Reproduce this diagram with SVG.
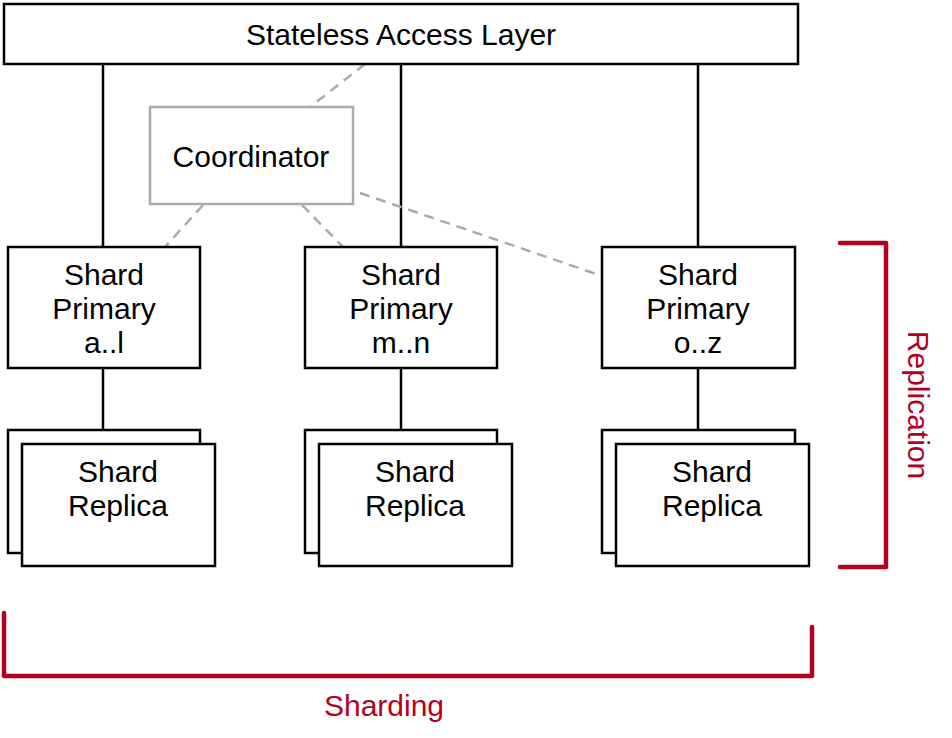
<svg xmlns="http://www.w3.org/2000/svg" width="952" height="738" viewBox="0 0 952 738">
<style>
.box{fill:#fff;stroke:#000;stroke-width:2.5}
.coord{fill:#fff;stroke:#aaa;stroke-width:2.5}
.t{font-family:"Liberation Sans",Arial,Helvetica,sans-serif;font-size:30px;fill:#000;text-anchor:middle}
.red{fill:#b3001f}
.line{stroke:#000;stroke-width:2.5;fill:none}
.dash{stroke:#aaa;stroke-width:2.5;stroke-dasharray:10 7;fill:none}
.br{stroke:#b3001f;stroke-width:4.5;fill:none;stroke-linecap:round;stroke-linejoin:round}
</style>
<rect width="952" height="738" fill="#fff"/>
<g id="connectors">
<line class="line" x1="103" y1="64" x2="103" y2="247"/>
<line class="line" x1="401" y1="64" x2="401" y2="247"/>
<line class="line" x1="698" y1="64" x2="698" y2="247"/>
<line class="line" x1="103" y1="368" x2="103" y2="430"/>
<line class="line" x1="401" y1="368" x2="401" y2="430"/>
<line class="line" x1="698" y1="368" x2="698" y2="430"/>
<line class="dash" x1="365" y1="64" x2="310" y2="107"/>
<line class="dash" x1="203" y1="205" x2="165" y2="247"/>
<line class="dash" x1="302" y1="205" x2="343" y2="247"/>
<line class="dash" x1="360" y1="193" x2="602" y2="276"/>
</g>
<g id="access-layer">
<rect class="box" x="4" y="4" width="794" height="60"/>
<text class="t" x="401" y="45">Stateless Access Layer</text>
</g>
<g id="coordinator">
<rect class="coord" x="150" y="107" width="203" height="97"/>
<text class="t" x="251" y="167">Coordinator</text>
</g>
<g id="primary-al">
<rect class="box" x="8" y="247" width="192" height="121"/>
<text class="t" x="104" y="285">Shard</text>
<text class="t" x="104" y="319">Primary</text>
<text class="t" x="104" y="353">a..l</text>
</g>
<g id="primary-mn">
<rect class="box" x="305" y="247" width="192" height="121"/>
<text class="t" x="401" y="285">Shard</text>
<text class="t" x="401" y="319">Primary</text>
<text class="t" x="401" y="353">m..n</text>
</g>
<g id="primary-oz">
<rect class="box" x="602" y="247" width="193" height="121"/>
<text class="t" x="698" y="285">Shard</text>
<text class="t" x="698" y="319">Primary</text>
<text class="t" x="698" y="353">o..z</text>
</g>
<g id="replica-al">
<rect class="box" x="8" y="430" width="192" height="123"/>
<rect class="box" x="22" y="444" width="193" height="122"/>
<text class="t" x="118" y="482">Shard</text>
<text class="t" x="118" y="516">Replica</text>
</g>
<g id="replica-mn">
<rect class="box" x="305" y="430" width="192" height="123"/>
<rect class="box" x="319" y="444" width="193" height="122"/>
<text class="t" x="415" y="482">Shard</text>
<text class="t" x="415" y="516">Replica</text>
</g>
<g id="replica-oz">
<rect class="box" x="602" y="430" width="193" height="123"/>
<rect class="box" x="616" y="444" width="193" height="122"/>
<text class="t" x="712" y="482">Shard</text>
<text class="t" x="712" y="516">Replica</text>
</g>
<g id="replication">
<path class="br" d="M840,243 H886 V567 H840"/>
<text class="t red" transform="translate(908,405) rotate(90)">Replication</text>
</g>
<g id="sharding">
<path class="br" d="M4,613 V676 H812 V627"/>
<text class="t red" x="384" y="716">Sharding</text>
</g>
</svg>
